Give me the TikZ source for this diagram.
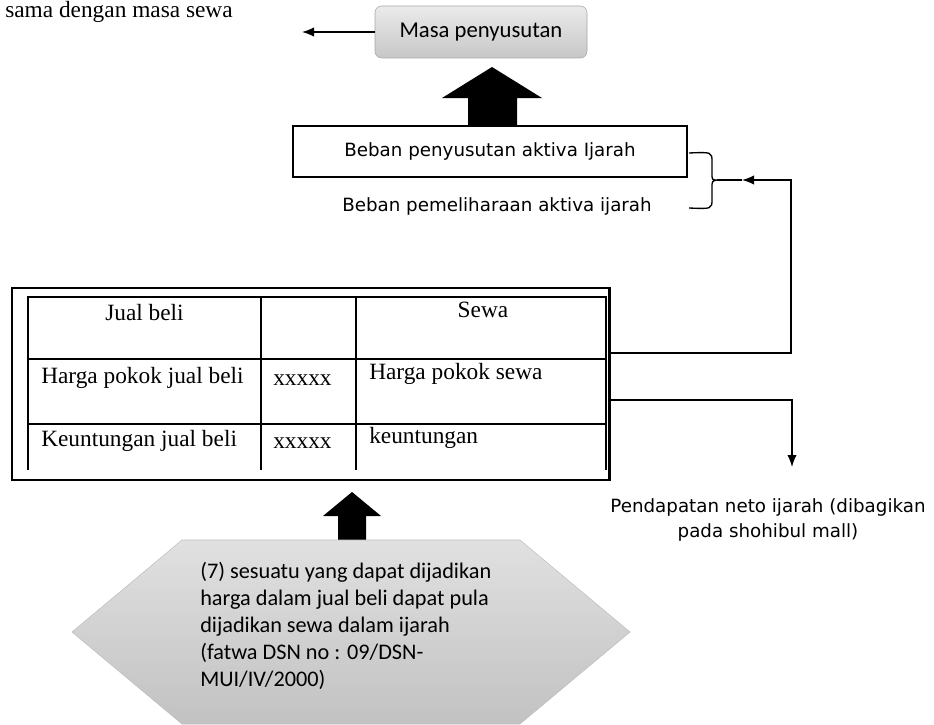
\documentclass[tikz,border=0pt]{standalone}
\usepackage{fontspec}
\setmainfont{Liberation Serif}
\newfontfamily\calibri{Carlito}
\newfontfamily\verd{DejaVu Sans}
\usetikzlibrary{arrows.meta}

\begin{document}
\begin{tikzpicture}[x=0.75pt,y=-0.75pt,
  stext/.style={inner sep=0pt,font=\fontsize{17.5}{20}\selectfont},
  cell/.style={stext,anchor=base west},
  vtext/.style={inner sep=0pt,font=\verd\fontsize{13.7}{19}\selectfont},
  line/.style={line width=1pt},
  flow/.style={line width=1pt,-{Latex[length=9pt,width=7pt]}}]
\useasboundingbox (0,0) rectangle (934,724);

\node[stext,anchor=base west] (0) at (5,18) {sama dengan masa sewa};
\node[draw=black!35,top color=black!8,bottom color=black!22,rounded corners=5pt,
  minimum width=159pt,minimum height=39pt,font=\calibri\fontsize{17}{20}\selectfont] (masa) at (481,32) {Masa penyusutan};
\coordinate (m0) at (302,32);
\draw[flow] (masa.west) -- (m0);

\fill (492,67) -- (542,98) -- (517,98) -- (517,126) -- (468,126) -- (468,98) -- (442,98) -- cycle;

\node[draw,line width=0.8pt,minimum width=295.5pt,minimum height=38.25pt,vtext] (beban) at (490,151.5) {Beban penyusutan aktiva Ijarah};
\node[vtext] (pemel) at (497,206) {Beban pemeliharaan aktiva ijarah};
\draw[line] (689,153) .. controls (712,152) .. (712,162) -- (712,173) .. controls (712,180) .. (717,180)
  .. controls (712,181) .. (712,188) -- (712,199) .. controls (712,209) .. (689,208);

% table
\node[draw,line width=0.8pt,inner sep=0pt,minimum width=447.75pt,minimum height=144pt] (tbl) at (310.5,384) {};
\draw[line width=2pt] (tbl.north east) -- (tbl.south east);
\draw[line] (28,470) -- (28,297) -- (606,297) -- (606,470);
\foreach \y in {359,424} \draw[line] (28,\y) -- (606,\y);
\foreach \x in {261,356} \draw[line] (\x,297) -- (\x,470);

\node[stext,anchor=base] (jb) at (144.5,320) {Jual beli};
\node[stext,anchor=base] (sw) at (483,317) {Sewa};
\node[cell] (hpj) at (41,383) {Harga pokok jual beli};
\node[cell] (x1) at (273,385) {xxxxx};
\node[cell] (hps) at (369,379) {Harga pokok sewa};
\node[cell] (kjb) at (41,446) {Keuntungan jual beli};
\node[cell] (x2) at (273,448) {xxxxx};
\node[cell] (keu) at (369,443) {keuntungan};

\coordinate (c1) at (609,353);
\coordinate (r1) at (791,180);
\coordinate (aj) at (742,180);
\coordinate (bt) at (717,180);
\draw[flow] (c1) -| (r1) -- (aj);
\draw[line] (bt) -- (aj);

\coordinate (c2) at (609,400);
\coordinate (p0) at (792,467);
\draw[flow] (c2) -| (p0);
\node[vtext,align=center] (pend) at (768,520) {Pendapatan neto ijarah (dibagikan\\pada shohibul mall)};

\fill (352,492) -- (381,516) -- (366,516) -- (366,540) -- (338,540) -- (338,516) -- (323,516) -- cycle;
\shade[top color=black!12,bottom color=black!24,draw=black!25] (72,632) -- (182,540) -- (520,540) -- (630,632) -- (520,724) -- (182,724) -- cycle;
\node[anchor=north west,align=left,inner sep=0pt,font=\calibri\fontsize{16.7}{20.25}\selectfont] (hex) at (200,562)
  {(7) sesuatu yang dapat dijadikan\\harga dalam jual beli dapat pula\\dijadikan sewa dalam ijarah\\(fatwa DSN no : 09/DSN-\\MUI/IV/2000)};
\end{tikzpicture}
\end{document}
